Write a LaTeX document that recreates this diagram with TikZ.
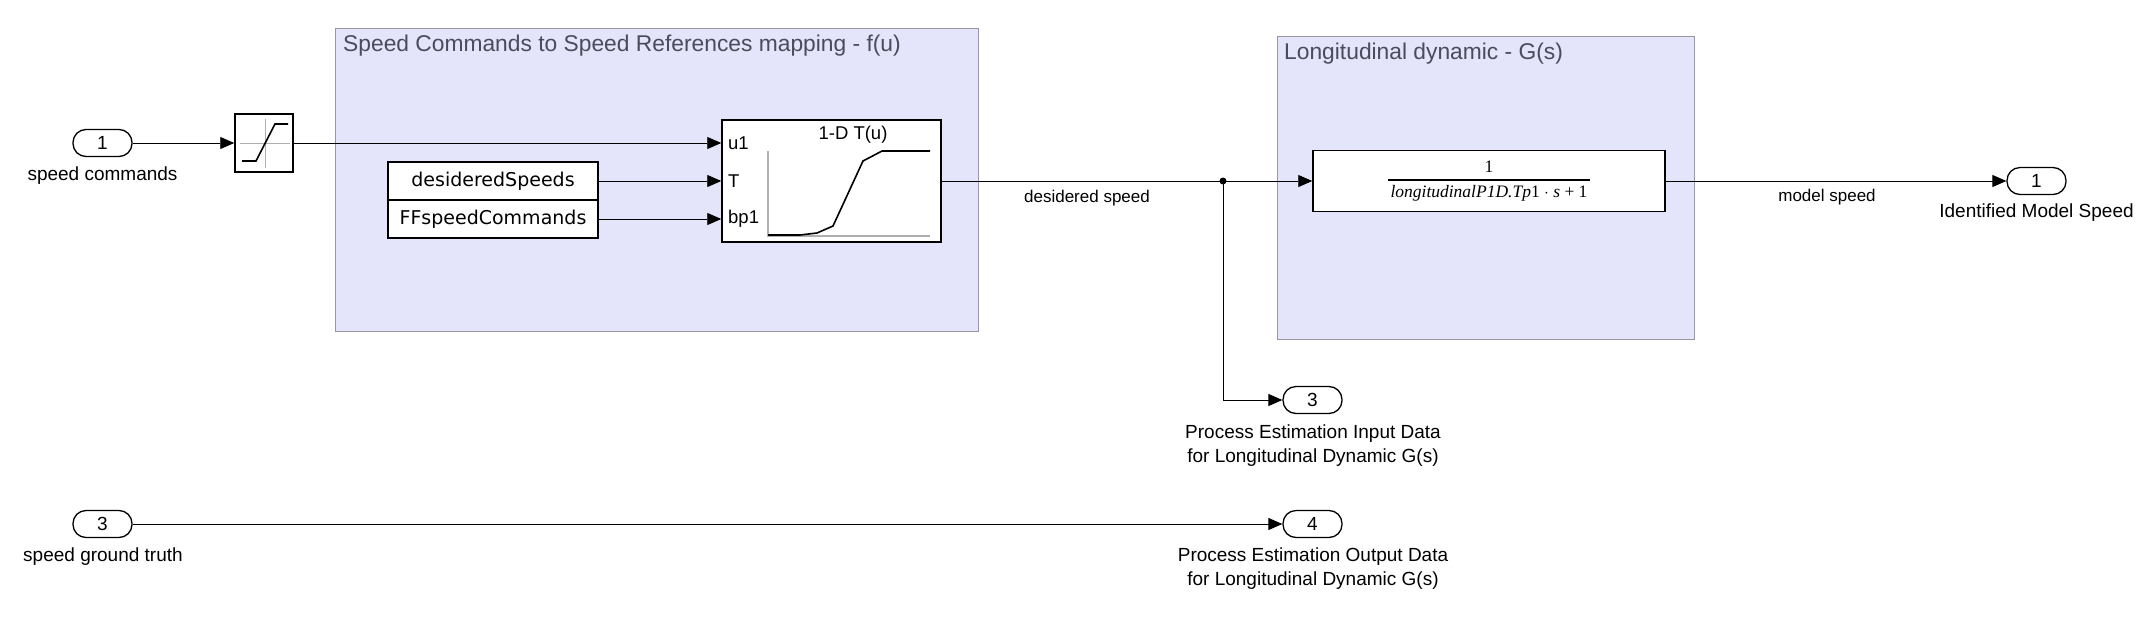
\documentclass[tikz,border=0pt]{standalone}
\usepackage{fontspec}
\setmainfont{Liberation Sans}
\newfontfamily\dejavu{DejaVu Sans}
\newfontfamily\tnr{Liberation Serif}
\usetikzlibrary{arrows.meta,calc}
\definecolor{subfill}{RGB}{228,229,250}
\definecolor{subedge}{RGB}{150,150,165}
\definecolor{subtitle}{RGB}{75,75,92}
\definecolor{axisgray}{RGB}{175,175,175}
\begin{document}
\begin{tikzpicture}[x=1pt,y=-1pt,
  conn/.style={draw=black, line width=0.9pt, -{Triangle[length=14pt,width=12pt]}},
  port/.style={draw, line width=1.3pt, rounded corners=13pt, minimum width=59pt, minimum height=27pt, inner sep=0pt, font=\fontsize{19}{22}\selectfont},
  blk/.style={draw, line width=1.5pt, fill=white, inner sep=0pt},
  sub/.style={draw=subedge, line width=1pt, fill=subfill, inner sep=0pt},
  subttl/.style={text=subtitle, font=\fontsize{22.8}{26}\selectfont, inner sep=0pt, anchor=base west},
  plbl/.style={font=\fontsize{19}{24}\selectfont, align=center, inner sep=0pt},
  slbl/.style={font=\fontsize{17}{20}\selectfont, inner sep=0pt},
  cst/.style={blk, minimum width=210pt, minimum height=38pt, font=\dejavu\fontsize{19}{22}\selectfont},
  inlbl/.style={font=\fontsize{18.5}{22}\selectfont, inner sep=0pt, anchor=west}
]
\useasboundingbox (0,0) rectangle (2152,635);

% subsystems
\node[sub, minimum width=643pt, minimum height=303pt] (sub1) at (656.5,179.5) {};
\node[subttl] (sub1t) at (343,51) {Speed Commands to Speed References mapping - f(u)};
\node[sub, minimum width=417pt, minimum height=303pt] (sub2) at (1485.5,187.5) {};
\node[subttl] (sub2t) at (1284,59) {Longitudinal dynamic - G(s)};

% input ports
\node[port] (in1) at (102.5,143) {1};
\node[plbl] (in1l) at (102.5,176) {speed commands};
\node[port] (in3) at (102.5,524) {3};
\node[plbl] (in3l) at (103,557) {speed ground truth};

% saturation
\node[blk, minimum width=58pt, minimum height=58pt] (sat) at (264,143) {};
\draw[axisgray, line width=1pt] (265,119) -- (265,168) (240,143) -- (290,143);
\draw[black, line width=1.6pt] (242,161) -- (256,161) -- (275,124) -- (288,124);

% constants
\node[cst] (c1) at (493,181) {desideredSpeeds};
\node[cst] (c2) at (493,219) {FFspeedCommands};

% lookup table
\node[blk, minimum width=219pt, minimum height=122pt] (lut) at (831.5,181) {};
\node[inlbl] (lu1) at (728,143) {u1};
\node[inlbl] (lT) at (728,181) {T};
\node[inlbl] (lbp) at (728,219) {bp1};
\node[font=\fontsize{18.5}{22}\selectfont, inner sep=0pt] (lutt) at (853,135) {1-D T(u)};
\draw[axisgray, line width=1.2pt] (768,151) -- (768,236) -- (930,236);
\draw[black, line width=1.6pt] (768,235) -- (800,235) -- (817,233) -- (833,226) -- (863,161) -- (882,151) -- (930,151);

% transfer function
\node[blk, minimum width=352pt, minimum height=61pt] (tf) at (1489,181) {};
\node[inner sep=0pt, font=\tnr\fontsize{17.5}{20}\selectfont] (tft) at (1489,181) {%
  \setlength{\arrayrulewidth}{1.2pt}%
  \begin{tabular}{@{\,}c@{\,}}1\\[1pt]\hline
  \rule{0pt}{17pt}\itshape longitudinalP1D.Tp\upshape1 $\cdot$ \itshape s\upshape{} + 1\end{tabular}};

% output ports
\node[port] (out1) at (2036.5,181) {1};
\node[plbl] (out1l) at (2036.5,213) {Identified Model Speed};
\node[port] (out3) at (1312.5,400) {3};
\node[plbl] (out3l) at (1313,446) {Process Estimation Input Data\\for Longitudinal Dynamic G(s)};
\node[port] (out4) at (1312.5,524) {4};
\node[plbl] (out4l) at (1313,569) {Process Estimation Output Data\\for Longitudinal Dynamic G(s)};

% branch point
\coordinate (br) at (1223,181);
\fill[black] (br) circle (3.5pt);

% connectors
\draw[conn] (in1.east) -- (sat.west);
\draw[conn] (sat.east) -- (lut.west |- sat.east);
\draw[conn] (c1.east) -- (lut.west |- c1.east);
\draw[conn] (c2.east) -- (lut.west |- c2.east);
\draw[conn] (lut.east) -- (tf.west);
\draw[conn] (br) |- (out3.west);
\draw[conn] (tf.east) -- (out1.west);
\draw[conn] (in3.east) -- (out4.west);

% signal labels
\node[slbl] (s1) at (1087,198) {desidered speed};
\node[slbl] (s2) at (1827,197) {model speed};
\end{tikzpicture}
\end{document}
